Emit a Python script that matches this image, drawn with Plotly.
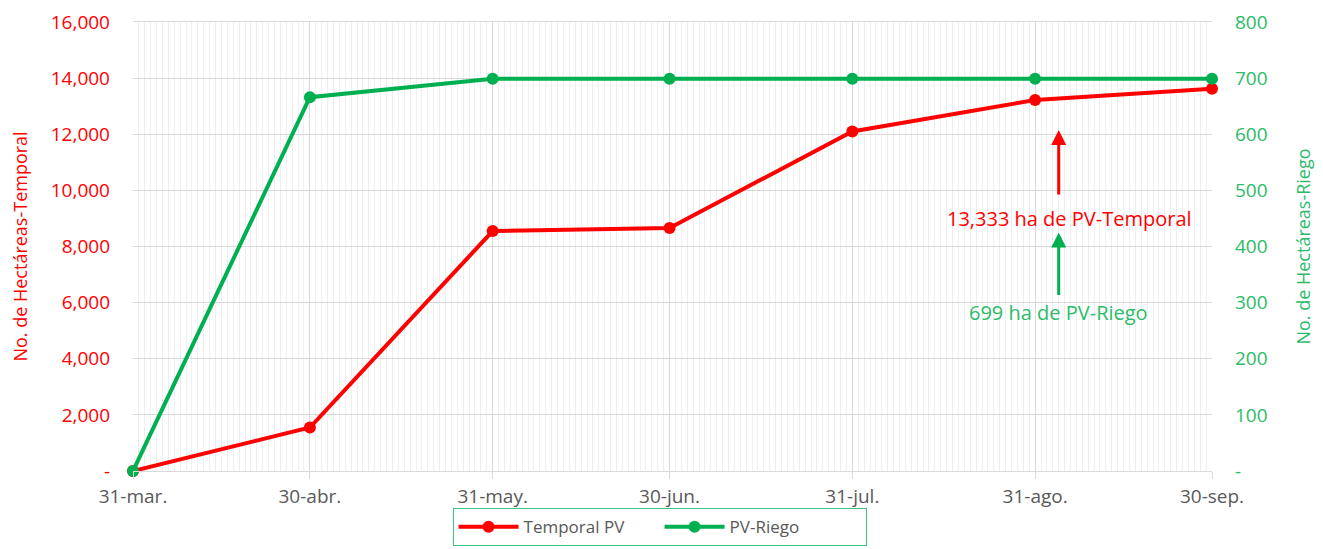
import plotly.graph_objects as go

dates = ["2021-03-31", "2021-04-30", "2021-05-31", "2021-06-30", "2021-07-31", "2021-08-31", "2021-09-30"]
date_labels = ["31-mar.", "30-abr.", "31-may.", "30-jun.", "31-jul.", "31-ago.", "30-sep."]
temporal = [0, 1550, 8550, 8660, 12100, 13220, 13620]
riego = [0, 666, 699, 699, 699, 699, 699]

left_ticks = [0, 2000, 4000, 6000, 8000, 10000, 12000, 14000, 16000]
left_text = ["-"] + [f"{v:,}" for v in left_ticks[1:]]
right_ticks = [0, 100, 200, 300, 400, 500, 600, 700, 800]
right_text = ["-"] + [str(v) for v in right_ticks[1:]]

RED = "#ff0000"
GREEN = "#00b050"
GREEN_TXT = "#2dbb6a"
FONT = "'Open Sans', sans-serif"

fig = go.Figure()
fig.add_trace(go.Scatter(x=dates, y=temporal, name="Temporal PV", mode="lines+markers",
                         line=dict(color=RED, width=4), marker=dict(color=RED, size=12),
                         yaxis="y", cliponaxis=False))
fig.add_trace(go.Scatter(x=dates, y=riego, name="PV-Riego", mode="lines+markers",
                         line=dict(color=GREEN, width=4), marker=dict(color=GREEN, size=12),
                         yaxis="y2", cliponaxis=False))

fig.update_layout(
    width=1315, height=541,
    margin=dict(l=125, r=111, t=14, b=78, autoexpand=False),
    paper_bgcolor="white", plot_bgcolor="white",
    font=dict(family=FONT, size=17, color="#595959"),
    showlegend=True,
    legend=dict(orientation="h", x=0.488, xanchor="center", y=-0.083, yanchor="top",
                bordercolor="#3cc47c", borderwidth=1, font=dict(size=17, color="#595959"),
                entrywidth=131, entrywidthmode="pixels", itemwidth=60),
    xaxis=dict(
        type="date", range=["2021-03-31", "2021-09-30"], automargin=False,
        tickmode="array", tickvals=dates, ticktext=date_labels,
        showgrid=True, gridcolor="#d9d9d9", gridwidth=1,
        ticks="outside", ticklen=7, tickcolor="#d9d9d9", ticklabelstandoff=1,
        showline=True, linecolor="#d9d9d9", mirror=True,
        tickfont=dict(size=19, color="#595959"),
        minor=dict(dtick=86400000, tick0="2021-03-31", showgrid=True, gridcolor="#efefef", gridwidth=1),
        zeroline=False,
    ),
    yaxis=dict(
        range=[0, 16000], tickmode="array", tickvals=left_ticks, ticktext=left_text,
        showgrid=True, gridcolor="#d9d9d9", gridwidth=1, automargin=False,
        tickfont=dict(size=19, color=RED), ticklabelstandoff=22, ticklabeloverflow="allow",
        title=dict(text="No. de Hectáreas-Temporal", font=dict(size=18, color=RED), standoff=25),
        showline=False, zeroline=False,
    ),
    yaxis2=dict(
        range=[0, 800], tickmode="array", tickvals=right_ticks, ticktext=right_text,
        overlaying="y", side="right", showgrid=False, automargin=False,
        tickfont=dict(size=19, color=GREEN_TXT), ticklabelstandoff=22, ticklabeloverflow="allow",
        title=dict(text="No. de Hectáreas-Riego", font=dict(size=18, color=GREEN_TXT), standoff=30),
        zeroline=False,
    ),
)

ann_x = "2021-09-04"
fig.add_annotation(x=ann_x, y=12150, xref="x", yref="y", text="", showarrow=True,
                   ax=0, ay=66, arrowcolor=RED, arrowwidth=3, arrowhead=2, arrowsize=1)
fig.add_annotation(x=ann_x, y=9000, xref="x", yref="y", text="13,333 ha de PV-Temporal",
                   showarrow=False, font=dict(size=20, color=RED), xshift=11)
fig.add_annotation(x=ann_x, y=8500, xref="x", yref="y", text="", showarrow=True,
                   ax=0, ay=64, arrowcolor=GREEN, arrowwidth=3, arrowhead=2, arrowsize=1)
fig.add_annotation(x=ann_x, y=5650, xref="x", yref="y", text="699 ha de PV-Riego",
                   showarrow=False, font=dict(size=20, color=GREEN_TXT))

fig.write_html("out.html")
